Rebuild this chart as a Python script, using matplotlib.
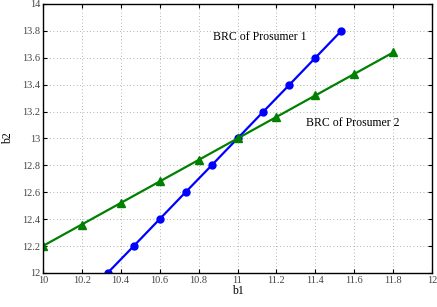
import matplotlib
matplotlib.use("Agg")
import matplotlib.pyplot as plt
import numpy as np

p1_b1 = [10.333, 10.467, 10.6, 10.733, 10.867, 11.0, 11.133, 11.267, 11.4, 11.533]
p1_b2 = [12.0, 12.2, 12.4, 12.6, 12.8, 13.0, 13.2, 13.4, 13.6, 13.8]
p2_b1 = [10.0, 10.2, 10.4, 10.6, 10.8, 11.0, 11.2, 11.4, 11.6, 11.8]
p2_b2 = [12.2, 12.36, 12.52, 12.68, 12.84, 13.0, 13.16, 13.32, 13.48, 13.64]
xticks = [10, 10.2, 10.4, 10.6, 10.8, 11, 11.2, 11.4, 11.6, 11.8, 12]
yticks = [12, 12.2, 12.4, 12.6, 12.8, 13, 13.2, 13.4, 13.6, 13.8, 14]

plt.rcParams['font.family'] = ['Liberation Serif', 'DejaVu Serif']
fig = plt.figure(figsize=(4.37, 3.07), dpi=100)
ax = fig.add_axes([0.098, 0.111, 0.891, 0.876])

ax.plot(p1_b1, p1_b2, color='#0000ff', lw=1.6, marker='o', ms=5)
ax.plot(p2_b1, p2_b2, color='#008000', lw=1.6, marker='^', ms=6)

ax.set_xlim(10, 12)
ax.set_ylim(12, 14)
ax.set_xticks(xticks)
ax.set_yticks(yticks)
ax.set_xticklabels([f"{t:g}" for t in xticks])
ax.set_yticklabels([f"{t:g}" for t in yticks])
ax.tick_params(direction='in', top=True, right=True, labelsize=7.5, colors='black', labelcolor='#444444', length=3, pad=2)
ax.grid(True, linestyle=(0, (1, 3)), color='#999999', lw=0.6)
for s in ax.spines.values():
    s.set_linewidth(1.0)

ax.set_xlabel('b1', fontsize=8.5, labelpad=0)
ax.set_ylabel('b2', fontsize=8.5, labelpad=6)

ax.text(10.874, 13.755, 'BRC of Prosumer 1', fontsize=8.5, va='center', ha='left')
ax.text(11.352, 13.115, 'BRC of Prosumer 2', fontsize=8.5, va='center', ha='left')

fig.savefig('out.png', dpi=100)
